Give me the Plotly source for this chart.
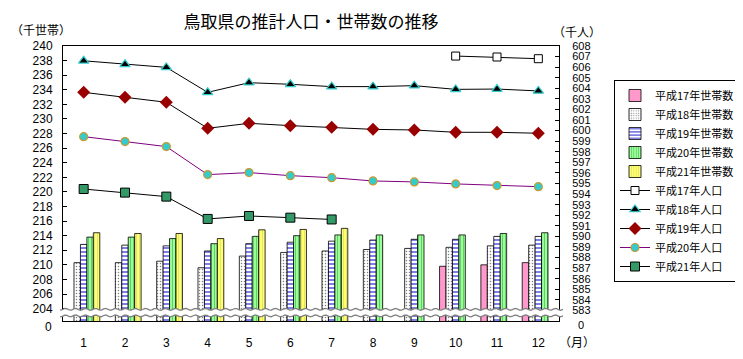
import numpy as np
import plotly.graph_objects as go

months = [str(m) for m in range(1, 13)]

# Households (千世帯), left axis
hh_h17 = [None, None, None, None, None, None, None, None, None, 209.8, 210.0, 210.3]
hh_h18 = [210.3, 210.3, 210.5, 209.6, 211.2, 211.7, 211.9, 212.1, 212.25, 212.4, 212.6, 212.7]
hh_h19 = [212.8, 212.7, 212.6, 211.9, 212.9, 213.1, 213.25, 213.4, 213.5, 213.5, 213.9, 213.9]
hh_h20 = [213.8, 213.8, 213.6, 212.9, 213.9, 214.0, 214.1, 214.1, 214.1, 214.1, 214.3, 214.4]
hh_h21 = [214.4, 214.3, 214.3, 213.6, 214.8, 214.85, 215.0, None, None, None, None, None]

# Population (千人), right axis
pop_h17 = [None, None, None, None, None, None, None, None, None, 607.05, 606.96, 606.8]
pop_h18 = [606.6, 606.27, 605.98, 603.62, 604.53, 604.38, 604.16, 604.16, 604.25, 603.9, 603.93, 603.75]
pop_h19 = [603.62, 603.15, 602.68, 600.22, 600.69, 600.47, 600.31, 600.12, 600.06, 599.84, 599.84, 599.75]
pop_h20 = [599.43, 598.96, 598.49, 595.84, 596.03, 595.74, 595.55, 595.24, 595.15, 594.96, 594.8, 594.7]
pop_h21 = [594.48, 594.14, 593.76, 591.65, 591.93, 591.77, 591.6, None, None, None, None, None]

left_ticks = list(range(204, 241, 2))
right_ticks = list(range(583, 609))
LEFT_MIN, LEFT_MAX = 202.3, 240
RIGHT_MIN, RIGHT_MAX = 582, 608

JP = "Noto Sans CJK JP"
NUM = "Liberation Sans, Arial, sans-serif"
NARROW = "Liberation Sans Narrow, Liberation Sans, sans-serif"

# the page body has an 8px margin: work in page pixels, convert to figure pixels
OFF = 8
W, H = 743 - OFF, 359 - OFF
PL, PR, PT, PB = 63 - OFF, 559 - OFF, 46 - OFF, 321 - OFF
PW, PH = PR - PL, PB - PT

def px_x(page_x):
    return (page_x - OFF - PL) / PW

def px_y(page_y):
    return (PB - (page_y - OFF)) / PH

fig = go.Figure()

bar_styles = [
    ("平成17年世帯数", hh_h17, dict(color="#FF99CC")),
    ("平成18年世帯数", hh_h18, dict(color="white", pattern=dict(shape=".", fgcolor="black", bgcolor="white", size=3, solidity=0.2))),
    ("平成19年世帯数", hh_h19, dict(color="white", pattern=dict(shape="-", fgcolor="#0000CC", bgcolor="white", size=4, solidity=0.5))),
    ("平成20年世帯数", hh_h20, dict(color="#99FF99", pattern=dict(shape="|", fgcolor="#339933", bgcolor="#99FF99", size=3, solidity=0.35))),
    ("平成21年世帯数", hh_h21, dict(color="#FFFF66", pattern=dict(shape="|", fgcolor="#BDBDA0", bgcolor="#FFFF66", size=3, solidity=0.3))),
]
for name, vals, mk in bar_styles:
    mk = dict(mk)
    mk["line"] = dict(color="black", width=0.8)
    fig.add_trace(go.Bar(name=name, x=months, y=vals, marker=mk, yaxis="y"))

line_styles = [
    ("平成17年人口", pop_h17, "black", dict(symbol="square", size=8, color="white", line=dict(color="black", width=1))),
    ("平成18年人口", pop_h18, "black", dict(symbol="triangle-up", size=9, color="black", line=dict(color="#33CCCC", width=1.2))),
    ("平成19年人口", pop_h19, "black", dict(symbol="diamond", size=10, color="#990000", line=dict(color="#990000", width=0))),
    ("平成20年人口", pop_h20, "#800080", dict(symbol="circle", size=8, color="#33CCCC", line=dict(color="#CC9933", width=1.2))),
    ("平成21年人口", pop_h21, "black", dict(symbol="square", size=9, color="#339966", line=dict(color="black", width=1))),
]
for name, vals, lc, mk in line_styles:
    fig.add_trace(go.Scatter(name=name, x=months, y=vals, mode="lines+markers",
                             line=dict(color=lc, width=1), marker=mk, yaxis="y2"))

# axis break band (wavy double line)
xs = np.linspace(-0.006, 1.008, 220)
period = 10 / PW
amp = 0.13
top = 203.9 + amp * np.sin(2 * np.pi * xs / period)
bot = 203.0 + amp * np.sin(2 * np.pi * xs / period)
def pts(xa, ya):
    return " L".join(f"{a:.5f},{b:.4f}" for a, b in zip(xa, ya))
band = "M" + pts(xs, top) + " L" + pts(xs[::-1], bot[::-1]) + " Z"
fig.add_shape(type="path", path=band, xref="paper", yref="y", fillcolor="white",
              line=dict(width=0), layer="above")
for yy in (top, bot):
    fig.add_shape(type="path", path="M" + pts(xs, yy), xref="paper", yref="y",
                  line=dict(color="#808080", width=1.3), layer="above")

fig.update_layout(
    width=W, height=H,
    margin=dict(l=PL, r=W - PR, t=PT, b=H - PB, autoexpand=False),
    paper_bgcolor="white", plot_bgcolor="white",
    barmode="group", bargap=0.22, bargroupgap=0,
    showlegend=True,
    title=dict(text="鳥取県の推計人口・世帯数の推移", x=px_x(311), xref="paper",
               y=1 - (22 - OFF) / H, yanchor="middle", xanchor="center",
               font=dict(family=JP, size=17, color="black")),
    legend=dict(x=px_x(614), y=px_y(80), xanchor="left", yanchor="top",
                bordercolor="black", borderwidth=1, bgcolor="white",
                font=dict(family=JP, size=11, color="black"), tracegroupgap=0, itemwidth=30),
    xaxis=dict(type="category", range=[-0.5, 11.5], autorange=False,
               showline=True, linecolor="black", linewidth=1, mirror=True,
               ticks="outside", ticklen=11, tickcolor="rgba(0,0,0,0)",
               tickfont=dict(family=NUM, size=12, color="black"), showgrid=False),
    yaxis=dict(range=[LEFT_MIN, LEFT_MAX], autorange=False, tickvals=left_ticks,
               ticktext=[str(v) for v in left_ticks],
               showline=True, linecolor="black", linewidth=1, ticks="inside", ticklen=4,
               tickcolor="black", showgrid=False, zeroline=False, ticklabelstandoff=7,
               tickfont=dict(family=NUM, size=12, color="black")),
    yaxis2=dict(range=[RIGHT_MIN, RIGHT_MAX], autorange=False, overlaying="y", side="right",
                tickvals=right_ticks,
                ticktext=[str(v) for v in right_ticks],
                showline=True, linecolor="black", linewidth=1, ticks="inside", ticklen=4,
                tickcolor="black", showgrid=False, zeroline=False, ticklabelstandoff=10,
                tickfont=dict(family=NARROW, size=11, color="black")),
)

annots = [
    ("（千世帯）", 41, 29, 12, JP),
    ("（千人）", 577, 31, 12, JP),
    ("（月）", 577, 341, 12, JP),
    ("0", 48, 327, 12, NUM),
    ("0", 581, 325, 11, NARROW),
]
for text, px, py, fs, fam in annots:
    fig.add_annotation(text=text, x=px_x(px), y=px_y(py), xref="paper", yref="paper",
                       showarrow=False, xanchor="center", yanchor="middle",
                       font=dict(family=fam, size=fs, color="black"))

fig.write_html("out.html")
